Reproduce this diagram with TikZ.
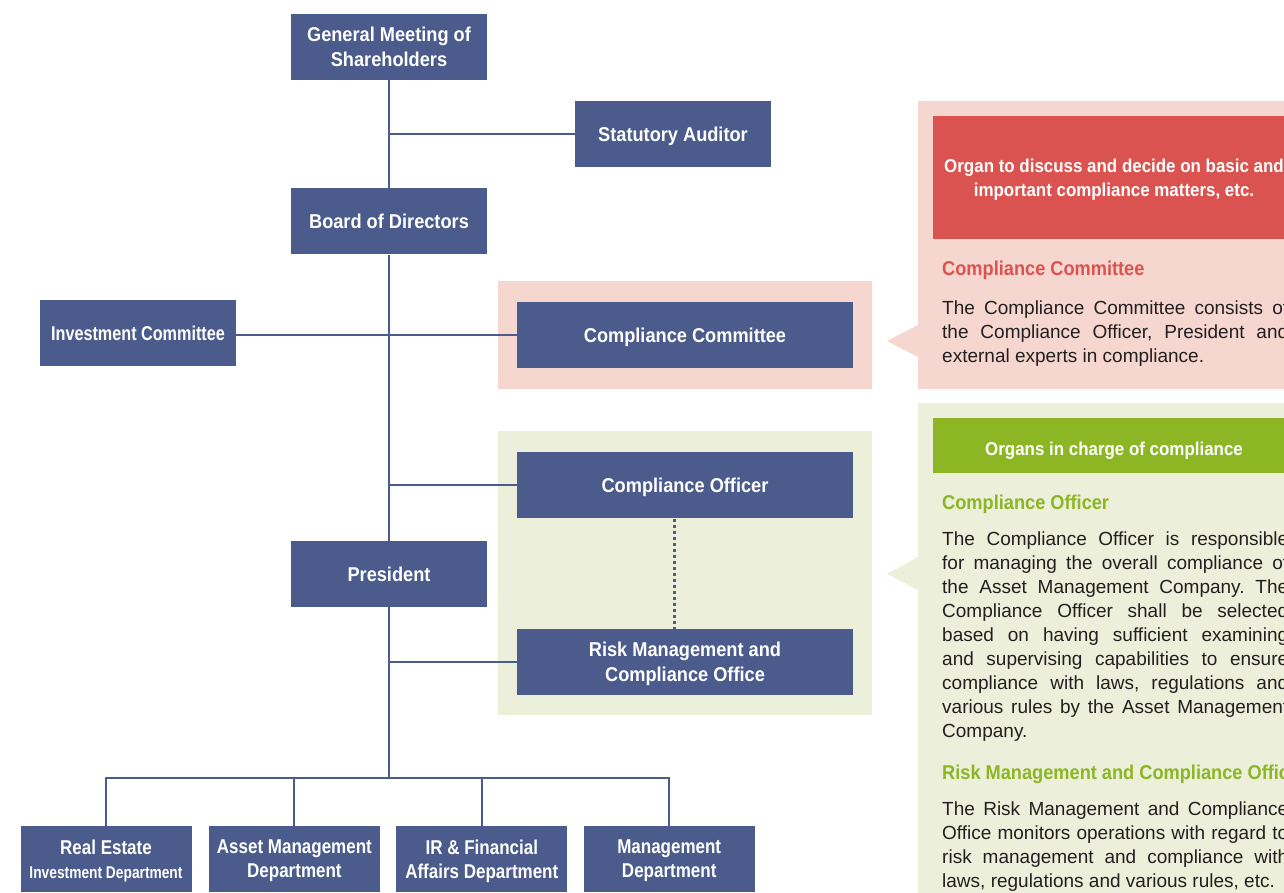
\documentclass[tikz,border=0pt]{standalone}
\usepackage{fontspec}
\setmainfont{Liberation Sans}
\newfontfamily\orgfont[FakeStretch=0.91]{Liberation Sans}
\newfontfamily\deptfont[FakeStretch=0.85]{Liberation Sans}
\newfontfamily\narrowfont[FakeStretch=0.81]{Liberation Sans}
\usetikzlibrary{positioning}
\frenchspacing

\definecolor{orgblue}{HTML}{4A5B8C}
\definecolor{pinkbg}{HTML}{F6D7D0}
\definecolor{redhead}{HTML}{DB5350}
\definecolor{greenbg}{HTML}{ECEFD9}
\definecolor{greenhead}{HTML}{8DB624}
\definecolor{textdark}{HTML}{231F20}

\tikzset{
  unit/.style={fill=orgblue, text=white, minimum width=196pt, minimum height=66pt,
    inner sep=0pt, align=center, text depth=0pt,
    font=\orgfont\bfseries\fontsize{20}{25}\selectfont},
  wideunit/.style={unit, minimum width=336pt},
  dept/.style={unit, minimum width=171pt, font=\deptfont\bfseries\fontsize{20}{24}\selectfont},
  link/.style={draw=orgblue, line width=2pt},
  headline/.style={text=white, align=center, inner sep=0pt,
    font=\orgfont\bfseries\fontsize{18.6}{24}\selectfont},
  heading/.style={anchor=west, inner sep=0pt, font=\orgfont\bfseries\fontsize{20}{24}\selectfont},
  para/.style={anchor=base west, inner sep=0pt, text width=346pt, align=justify,
    text=textdark, font=\fontsize{19}{24}\selectfont}
}

\begin{document}
\begin{tikzpicture}[x=1pt,y=-1pt]
  \useasboundingbox (0,0) rectangle (1284,892);
  \clip (0,0) rectangle (1284,892);

  % backgrounds of the compliance organs
  \fill[pinkbg] (498,281) rectangle (872,389);
  \fill[greenbg] (498,431) rectangle (872,715);

  % organisation chart
  \node[unit] (gm) at (389,47) {General Meeting of\\Shareholders};
  \node[unit, below=108pt of gm] (bod) {Board of Directors};
  \node[unit] (sa) at (673,134) {Statutory Auditor};
  \node[unit, font=\narrowfont\bfseries\fontsize{20}{25}\selectfont] (ic) at (138,333) {Investment Committee};
  \node[wideunit] (cc) at (685,335) {Compliance Committee};
  \node[wideunit, below=84pt of cc] (co) {Compliance Officer};
  \node[wideunit, below=110pt of co] (rm) {Risk Management and\\Compliance Office};
  \node[unit, below=286pt of bod] (pres) {President};
  \coordinate[below=171pt of pres] (bus);

  \node[dept] (d1) at (106,859) {Real Estate\\\narrowfont\fontsize{17}{24}\selectfont Investment Department};
  \node[dept, right=17pt of d1] (d2) {Asset Management\\Department};
  \node[dept, right=16pt of d2] (d3) {IR \& Financial\\Affairs Department};
  \node[dept, right=16pt of d3] (d4) {Management\\Department};

  \draw[link] (gm) -- (bod) -- (pres) -- (bus);
  \draw[link] (sa) -- (sa -| gm);
  \draw[link] (ic.east |- cc.west) -- (cc.west);
  \draw[link] (co) -- (co -| pres);
  \draw[link] (rm) -- (rm -| pres);
  \draw[link] (d1) |- (bus) -| (d4);
  \draw[link] (d2) -- (d2 |- bus);
  \draw[link] (d3) -- (d3 |- bus);
  \draw[orgblue, line width=3pt, dash pattern=on 3pt off 3pt]
    ([xshift=-11pt]co.south) -- ([xshift=-11pt]rm.north);

  % explanation panels
  \fill[pinkbg] (918,101) -- (1300,101) -- (1300,389) -- (918,389)
    -- (918,357) -- (887,341) -- (918,325) -- cycle;
  \fill[redhead] (933,116) rectangle (1300,239);
  \node[headline] (cchdr) at (1114,180) {Organ to discuss and decide on basic and\\important compliance matters, etc.};
  \node[heading, text=redhead] (cchead) at (942,270) {Compliance Committee};
  \node[para] (cctext) at (942,314) {The Compliance Committee consists of\linebreak
    the Compliance Officer, President and\linebreak external experts in compliance.};

  \fill[greenbg] (918,403) -- (1300,403) -- (1300,900) -- (918,900)
    -- (918,590) -- (887,574) -- (918,557) -- cycle;
  \fill[greenhead] (933,418) rectangle (1300,473);
  \node[headline] (cohdr) at (1114,451) {Organs in charge of compliance};
  \node[heading, text=greenhead] (cohead) at (942,504) {Compliance Officer};
  \node[para] (cotext) at (942,545) {The Compliance Officer is responsible\linebreak
    for managing the overall compliance of\linebreak
    the Asset Management Company. The\linebreak
    Compliance Officer shall be selected\linebreak
    based on having sufficient examining\linebreak
    and supervising capabilities to ensure\linebreak
    compliance with laws, regulations and\linebreak
    various rules by the Asset Management\linebreak
    Company.};
  \node[heading, text=greenhead] (rmhead) at (942,774) {Risk Management and Compliance Office};
  \node[para] (rmtext) at (942,815) {The Risk Management and Compliance\linebreak
    Office monitors operations with regard to\linebreak
    risk management and compliance with\linebreak
    laws, regulations and various rules, etc.};
\end{tikzpicture}
\end{document}
